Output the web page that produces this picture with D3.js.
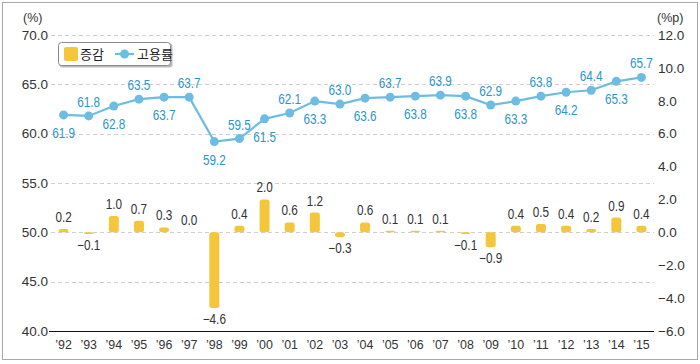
<!DOCTYPE html>
<html>
<head>
<meta charset="utf-8">
<script src="https://cdn.jsdelivr.net/npm/d3@7"></script>
<style>
  body { margin: 0; background: #fff; }
  svg { display: block; font-family: "Liberation Sans", Arial, sans-serif; }
</style>
</head>
<body>
<div id="chart"></div>
<script>
// 연도
const years = ["'92", "'93", "'94", "'95", "'96", "'97", "'98", "'99", "'00", "'01", "'02", "'03",
  "'04", "'05", "'06", "'07", "'08", "'09", "'10", "'11", "'12", "'13", "'14", "'15"]
// 고용률 (%)
const rate = [61.9, 61.8, 62.8, 63.5, 63.7, 63.7, 59.2, 59.5, 61.5, 62.1, 63.3, 63.0,
  63.6, 63.7, 63.8, 63.9, 63.8, 62.9, 63.3, 63.8, 64.2, 64.4, 65.3, 65.7]
// 증감 (%p)
const change = [0.2, -0.1, 1.0, 0.7, 0.3, 0.0, -4.6, 0.4, 2.0, 0.6, 1.2, -0.3,
  0.6, 0.1, 0.1, 0.1, -0.1, -0.9, 0.4, 0.5, 0.4, 0.2, 0.9, 0.4]
const leftTicks = [40, 45, 50, 55, 60, 65, 70]
const rightTicks = [-6, -4, -2, 0, 2, 4, 6, 8, 10, 12]

const W = 700, H = 364
const margin = { top: 35, right: 46, bottom: 33, left: 51 }
const narrow = 0.84

const svg = d3.select("#chart").append("svg").attr("width", W).attr("height", H)

// 바깥 테두리
svg.append("rect")
  .attr("x", 2.5).attr("y", 2.5).attr("width", 695).attr("height", 357)
  .attr("fill", "none").attr("stroke", "#a8a8a8")

const x = d3.scaleBand().domain(years).range([margin.left, W - margin.right]).padding(0)
const yL = d3.scaleLinear().domain([40, 70]).range([H - margin.bottom, margin.top])
const yR = d3.scaleLinear().domain([-6, 12]).range([H - margin.bottom, margin.top])
const cx = (i) => x(years[i]) + x.bandwidth() / 2
const fmt = (d) => d3.format(".1f")(d).replace("-", "\u2212")

// 격자선
svg.append("g")
  .selectAll("line")
  .data(leftTicks.slice(1))
  .enter()
  .append("line")
  .attr("x1", margin.left).attr("x2", W - margin.right)
  .attr("y1", (d) => Math.round(yL(d)) + 0.5).attr("y2", (d) => Math.round(yL(d)) + 0.5)
  .attr("stroke", "#cfcfcf").attr("stroke-dasharray", "4,3")

// 왼쪽 축
const axisL = svg.append("g")
  .attr("transform", "translate(" + (margin.left - 3) + ",0)")
  .call(d3.axisLeft(yL).tickValues(leftTicks).tickFormat(d3.format(".1f")).tickSize(0).tickPadding(0))
axisL.select(".domain").remove()
axisL.selectAll("text").attr("font-size", 13.5).attr("fill", "#333").attr("font-family", "Liberation Sans, Arial, sans-serif")

// 오른쪽 축
const axisR = svg.append("g")
  .attr("transform", "translate(" + (W - margin.right + 4) + ",0)")
  .call(d3.axisRight(yR).tickValues(rightTicks).tickFormat(d3.format(".1f")).tickSize(0).tickPadding(0))
axisR.select(".domain").remove()
axisR.selectAll("text").attr("font-size", 13.5).attr("fill", "#333").text(fmt)

// 단위
svg.append("text").attr("x", 23).attr("y", 22).attr("font-size", 12.5).attr("fill", "#333").text("(%)")
svg.append("text").attr("x", 657).attr("y", 22).attr("font-size", 12.5).attr("fill", "#333").text("(%p)")

// 막대
const barW = 10
svg.append("g")
  .selectAll("rect")
  .data(change)
  .enter()
  .append("rect")
  .attr("x", (d, i) => cx(i) - barW / 2)
  .attr("y", (d) => Math.min(yR(d), yR(0)))
  .attr("width", barW)
  .attr("height", (d) => Math.max(Math.abs(yR(d) - yR(0)), d === 0 ? 0 : 1.5))
  .attr("rx", 2.5)
  .attr("fill", "#f3c63c")

// 막대 값
svg.append("g")
  .selectAll("text")
  .data(change)
  .enter()
  .append("text")
  .attr("transform", (d, i) => "translate(" + cx(i) + "," + (d >= 0 ? yR(d) - 7 : yR(d) + 16) + ") scale(" + narrow + ",1)")
  .attr("text-anchor", "middle")
  .attr("font-size", 14)
  .attr("fill", "#333")
  .text(fmt)

// 기준선
svg.append("line")
  .attr("x1", margin.left - 2).attr("x2", W - margin.right)
  .attr("y1", yL(40) + 0.5).attr("y2", yL(40) + 0.5)
  .attr("stroke", "#111").attr("stroke-width", 1.2)

// x축 라벨
svg.append("g")
  .selectAll("text")
  .data(years)
  .enter()
  .append("text")
  .attr("transform", (d) => "translate(" + (x(d) + x.bandwidth() / 2) + "," + (H - margin.bottom + 18) + ") scale(0.92,1)")
  .attr("text-anchor", "middle")
  .attr("font-size", 13.5)
  .attr("fill", "#333")
  .text((d) => d.replace("'", "\u2019"))

// 고용률 선
const line = d3.line()
  .x((d, i) => cx(i))
  .y((d) => yL(d))
svg.append("path")
  .datum(rate)
  .attr("d", line)
  .attr("fill", "none")
  .attr("stroke", "#6dbde3")
  .attr("stroke-width", 2.2)

svg.append("g")
  .selectAll("circle")
  .data(rate)
  .enter()
  .append("circle")
  .attr("cx", (d, i) => cx(i))
  .attr("cy", (d) => yL(d))
  .attr("r", 4.5)
  .attr("fill", "#6dbde3")

// 고용률 값 (짝수 아래, 홀수 위)
svg.append("g")
  .selectAll("text")
  .data(rate)
  .enter()
  .append("text")
  .attr("transform", (d, i) => "translate(" + cx(i) + "," + (i % 2 === 0 ? yL(d) + 23 : yL(d) - 9) + ") scale(" + narrow + ",1)")
  .attr("text-anchor", "middle")
  .attr("font-size", 14)
  .attr("fill", "#2a96c8")
  .text((d) => d3.format(".1f")(d))

// 범례
const legend = svg.append("g").attr("transform", "translate(58,42)")
legend.append("rect")
  .attr("x", 1.5).attr("y", 1.5).attr("width", 113).attr("height", 24).attr("rx", 3)
  .attr("fill", "#bbb")
legend.append("rect")
  .attr("x", 0.5).attr("y", 0.5).attr("width", 112).attr("height", 23).attr("rx", 3)
  .attr("fill", "#fff").attr("stroke", "#8a8a8a")
legend.append("rect")
  .attr("x", 6).attr("y", 5).attr("width", 14).attr("height", 14).attr("rx", 2)
  .attr("fill", "#f3c63c")
legend.append("text")
  .attr("x", 22).attr("y", 17).attr("font-size", 13)
  .attr("font-family", "Noto Sans CJK KR, sans-serif").attr("fill", "#222").text("증감")
legend.append("line")
  .attr("x1", 57).attr("x2", 76).attr("y1", 12).attr("y2", 12)
  .attr("stroke", "#6dbde3").attr("stroke-width", 2.2)
legend.append("circle").attr("cx", 66.5).attr("cy", 12).attr("r", 4.5).attr("fill", "#6dbde3")
legend.append("text")
  .attr("x", 79).attr("y", 17).attr("font-size", 13)
  .attr("font-family", "Noto Sans CJK KR, sans-serif").attr("fill", "#222").text("고용률")
</script>
</body>
</html>
